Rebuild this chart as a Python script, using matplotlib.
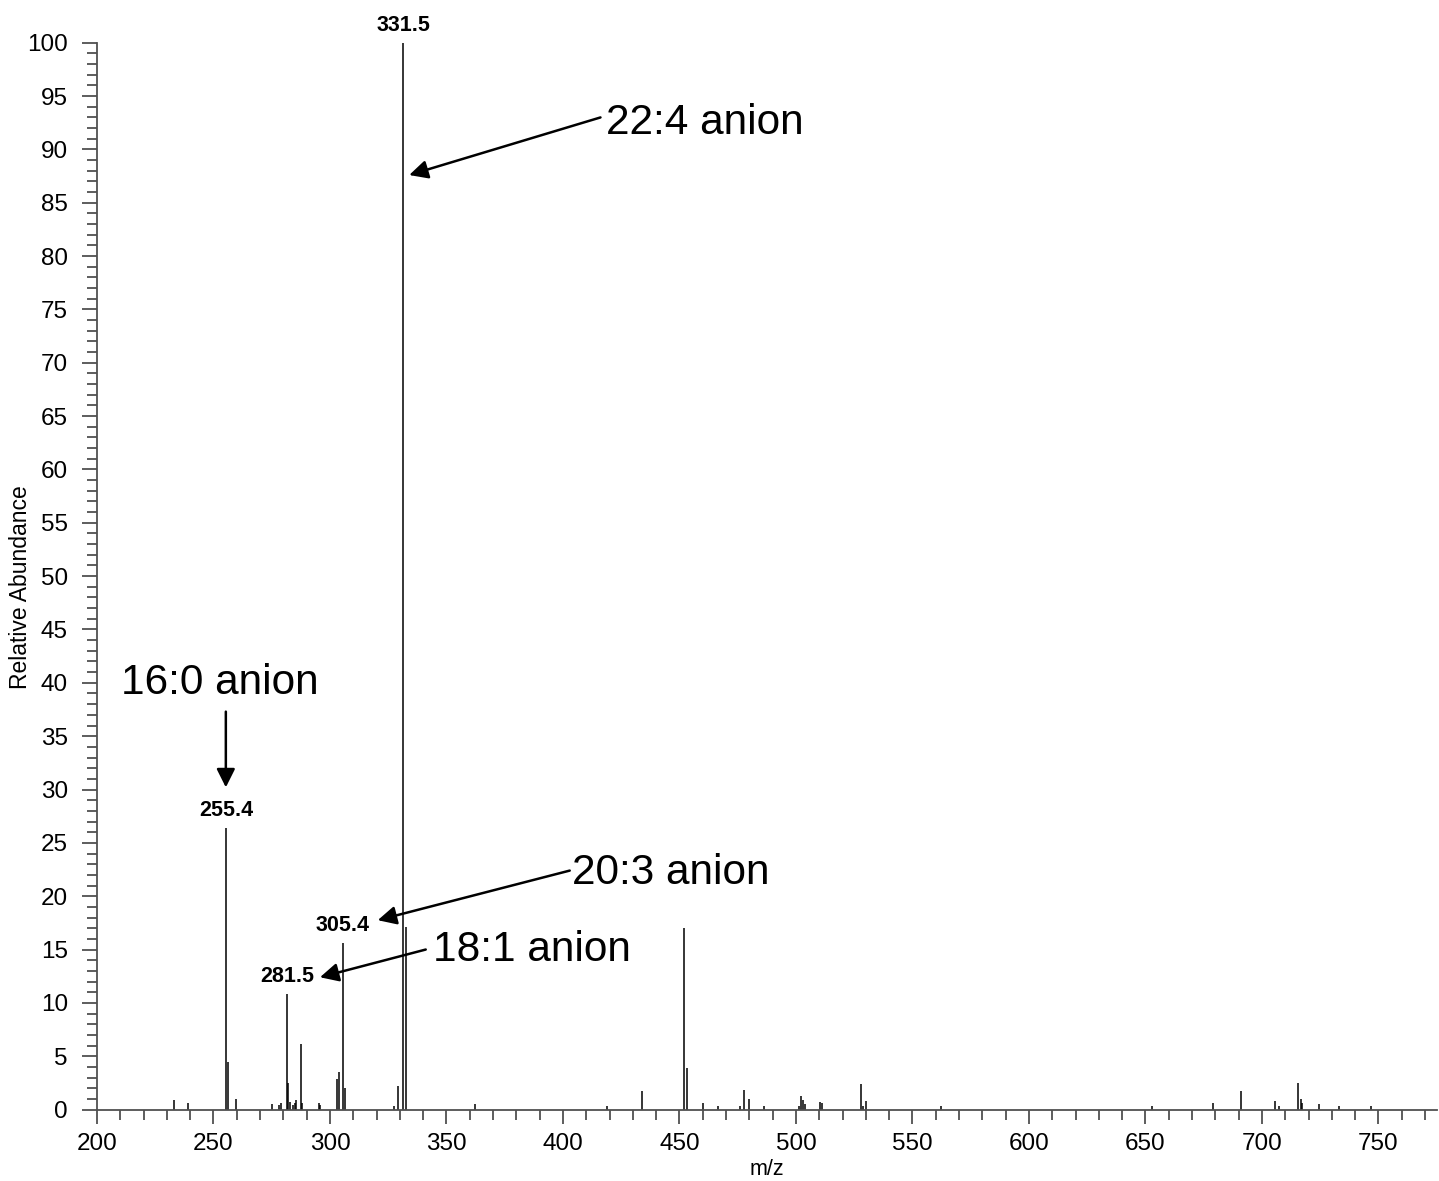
import matplotlib
matplotlib.use('Agg')
import matplotlib.pyplot as plt
from matplotlib.ticker import MultipleLocator

plt.rcParams['font.family'] = ['Liberation Sans', 'DejaVu Sans']

# centroided peaks: m/z and relative abundance (%)
mz = [233.2, 238.9, 255.4, 256.1, 259.5, 274.9, 278.2, 278.8, 281.5, 282.1,
      282.9, 284.2, 284.8, 285.4, 287.5, 288.1, 295.2, 295.8, 303.0, 303.7,
      305.4, 306.3, 327.3, 329.1, 331.5, 332.6, 362.3, 419.1, 434.1, 451.8,
      453.1, 460.3, 466.7, 475.8, 477.9, 479.8, 486.3, 501.2, 502.0, 503.2,
      503.9, 510.3, 511.0, 528.0, 528.7, 530.0, 562.2, 652.7, 678.8, 691.2,
      705.5, 707.5, 715.4, 716.7, 717.4, 724.5, 732.9, 746.7]
abundance = [0.87, 0.65, 26.4, 4.5, 1.0, 0.5, 0.4, 0.6, 10.8, 2.5,
             0.7, 0.45, 0.65, 0.85, 6.1, 0.6, 0.6, 0.4, 2.9, 3.5,
             15.6, 2.0, 0.3, 2.25, 100.0, 17.1, 0.5, 0.35, 1.7, 17.0,
             3.85, 0.65, 0.35, 0.35, 1.8, 1.0, 0.35, 0.35, 1.3, 0.9,
             0.55, 0.75, 0.65, 2.4, 0.35, 0.8, 0.35, 0.35, 0.65, 1.7,
             0.8, 0.35, 2.5, 1.0, 0.65, 0.5, 0.35, 0.35]

# peaks that get their m/z printed above them
labeled = [255.4, 281.5, 305.4, 331.5]

# (text, text position, arrow tail, arrow tip)
anions = [
    ('22:4 anion', (418.6, 92.5), (416.1, 93.0), (334.0, 87.6)),
    ('20:3 anion', (403.8, 22.2), (402.9, 22.4), (320.5, 17.75)),
    ('18:1 anion', (344.4, 15.0), (341.1, 15.0), (295.7, 12.4)),
]

fig = plt.figure(figsize=(14.39, 11.81), dpi=100)
ax = fig.add_axes([0.0674, 0.0605, 0.931, 0.9033])

ax.vlines(mz, 0, abundance, color='black', lw=1.1)

for m in labeled:
    h = abundance[mz.index(m)]
    ax.annotate(f'{m:.1f}', xy=(m, h), xytext=(0, 5), textcoords='offset points',
                ha='center', va='bottom', fontsize=15.5, fontweight='bold')

for text, tpos, tail, tip in anions:
    ax.text(tpos[0], tpos[1], text, fontsize=30.5, ha='left', va='center')
    ax.annotate('', xy=tip, xytext=tail,
                arrowprops=dict(arrowstyle='-|>', color='black', lw=1.8,
                                mutation_scale=28, shrinkA=0, shrinkB=0))

ax.text(252.7, 40.0, '16:0 anion', fontsize=30.5, ha='center', va='center')
ax.annotate('', xy=(255.3, 30.2), xytext=(255.3, 37.3),
            arrowprops=dict(arrowstyle='-|>', color='black', lw=1.8,
                            mutation_scale=28, shrinkA=0, shrinkB=0))

ax.set_xlim(200, 775)
ax.set_ylim(0, 100)
ax.xaxis.set_major_locator(MultipleLocator(50))
ax.xaxis.set_minor_locator(MultipleLocator(10))
ax.yaxis.set_major_locator(MultipleLocator(5))
ax.yaxis.set_minor_locator(MultipleLocator(1))

for side in ['top', 'right']:
    ax.spines[side].set_visible(False)
for side in ['left', 'bottom']:
    ax.spines[side].set_color('#505050')
    ax.spines[side].set_linewidth(1.3)

ax.tick_params(axis='both', which='both', direction='out', color='#505050', width=1.3)
ax.tick_params(axis='x', which='major', length=10, pad=7, labelsize=17.5)
ax.tick_params(axis='x', which='minor', length=7)
ax.tick_params(axis='y', which='major', length=11, pad=10, labelsize=17.5)
ax.tick_params(axis='y', which='minor', length=7)

ax.set_xlabel('m/z', fontsize=15.5, labelpad=3)
ax.set_ylabel('Relative Abundance', fontsize=16.5)
ax.yaxis.set_label_coords(-0.0485, 0.49)

fig.savefig('out.png', dpi=100)
